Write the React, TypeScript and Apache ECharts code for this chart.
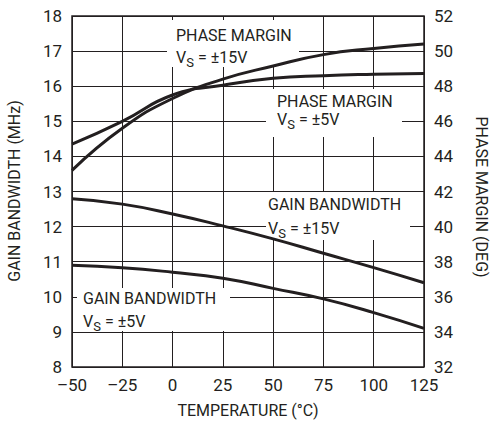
import React, { useEffect, useRef } from "react";
import * as echarts from "echarts";

const temperatures = [-50, -25, 0, 25, 50, 75, 100, 125];
const phaseMargin15 = [43.2, 45.6, 47.3, 48.4, 49.15, 49.8, 50.15, 50.4];
const phaseMargin5 = [44.7, 46.0, 47.5, 48.05, 48.45, 48.6, 48.68, 48.73];
const gainBw15 = [12.79, 12.64, 12.36, 12.02, 11.65, 11.24, 10.83, 10.4];
const gainBw5 = [10.9, 10.83, 10.7, 10.53, 10.24, 9.94, 9.55, 9.1];

const xTicks = { min: -50, max: 125, interval: 25 };
const leftTicks = { min: 8, max: 18, interval: 1 };
const rightTicks = { min: 32, max: 52, interval: 2 };

const FONT = "Roboto, 'Liberation Sans', sans-serif";
const INK = "#231f20";

const pairs = (ys: number[]) => temperatures.map((t, i) => [t, ys[i]]);

const vsText = (x: number, yTop: number, rest: string, z: number) => ({
  type: "text",
  z,
  style: {
    x,
    y: yTop,
    text: `{v|V}{s|S}{v|${rest}}`,
    verticalAlign: "top",
    align: "left",
    rich: {
      v: { fontFamily: FONT, fontSize: 16, lineHeight: 16, verticalAlign: "top", fill: INK },
      s: { fontFamily: FONT, fontSize: 13, lineHeight: 13, padding: [7, 0, 0, 0], verticalAlign: "top", fill: INK },
    },
  },
});

const plainText = (x: number, yMid: number, text: string, z: number) => ({
  type: "text",
  z,
  style: { x, y: yMid, text, font: `16px ${FONT}`, fill: INK, verticalAlign: "middle", align: "left" },
});

const whiteBox = (x: number, y: number, w: number, h: number) => ({
  type: "rect",
  z: 1,
  shape: { x, y, width: w, height: h },
  style: { fill: "#fff" },
});

export default function App() {
  const ref = useRef<HTMLDivElement>(null);
  useEffect(() => {
    if (!ref.current) return;
    const chart = echarts.init(ref.current, null, { renderer: "svg" });
    const lineStyle = { color: INK, width: 3 };
    chart.setOption({
      animation: false,
      backgroundColor: "#fff",
      grid: {
        left: 72,
        right: 67,
        top: 16,
        bottom: 54,
        show: true,
        borderColor: INK,
        borderWidth: 1.5,
        backgroundColor: "transparent",
      },
      xAxis: {
        type: "value",
        ...xTicks,
        axisLine: { show: false },
        axisTick: { show: false },
        splitLine: { show: true, lineStyle: { color: INK, width: 1 } },
        axisLabel: {
          margin: 9,
          fontSize: 17,
          fontFamily: FONT,
          color: INK,
          formatter: (v: number) => String(v).replace("-", "\u2013"),
        },
      },
      yAxis: [
        {
          type: "value",
          ...leftTicks,
          axisLine: { show: false },
          axisTick: { show: false },
          splitLine: { show: true, lineStyle: { color: INK, width: 1 } },
          axisLabel: { margin: 10, fontSize: 17, fontFamily: FONT, color: INK },
        },
        {
          type: "value",
          position: "right",
          ...rightTicks,
          axisLine: { show: false },
          axisTick: { show: false },
          splitLine: { show: false },
          axisLabel: { margin: 10, fontSize: 17, fontFamily: FONT, color: INK },
        },
      ],
      series: [
        { name: "PM15", type: "line", yAxisIndex: 1, smooth: true, symbol: "none", lineStyle, data: pairs(phaseMargin15), z: 2 },
        { name: "PM5", type: "line", yAxisIndex: 1, smooth: true, symbol: "none", lineStyle, data: pairs(phaseMargin5), z: 2 },
        { name: "GB15", type: "line", yAxisIndex: 0, smooth: true, symbol: "none", lineStyle, data: pairs(gainBw15), z: 2 },
        { name: "GB5", type: "line", yAxisIndex: 0, smooth: true, symbol: "none", lineStyle, data: pairs(gainBw5), z: 2 },
      ],
      graphic: [
        whiteBox(167, 20, 132, 47),
        whiteBox(266, 89, 136, 48),
        whiteBox(266, 192, 144, 48),
        whiteBox(77, 288, 153, 43),
        plainText(176, 35, "PHASE MARGIN", 3),
        vsText(176, 49, " = \u00b115V", 3),
        plainText(277, 101, "PHASE MARGIN", 3),
        vsText(277, 111, " = \u00b15V", 3),
        plainText(268, 204, "GAIN BANDWIDTH", 3),
        vsText(268, 220, " = \u00b115V", 3),
        plainText(83, 298, "GAIN BANDWIDTH", 3),
        vsText(83, 313, " = \u00b15V", 3),
        {
          type: "text",
          z: 3,
          style: { x: 248, y: 410, text: "TEMPERATURE (\u00b0C)", font: `16px ${FONT}`, fill: INK, align: "center", verticalAlign: "middle" },
        },
        {
          type: "text",
          z: 3,
          x: 14,
          y: 191,
          rotation: Math.PI / 2,
          style: { x: 0, y: 0, text: "GAIN BANDWIDTH (MHz)", font: `16px ${FONT}`, fill: INK, align: "center", verticalAlign: "middle" },
        },
        {
          type: "text",
          z: 3,
          x: 481,
          y: 197,
          rotation: -Math.PI / 2,
          style: { x: 0, y: 0, text: "PHASE MARGIN (DEG)", font: `16px ${FONT}`, fill: INK, align: "center", verticalAlign: "middle" },
        },
      ],
    });
    return () => chart.dispose();
  }, []);
  return <div ref={ref} style={{ width: 491, height: 421, position: "absolute", left: 0, top: 0 }} />;
}
